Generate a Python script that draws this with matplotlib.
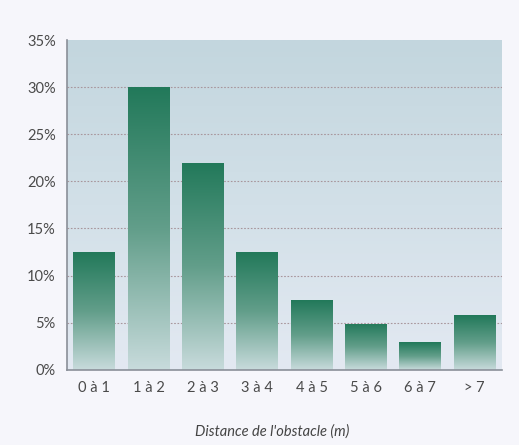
import numpy as np
import matplotlib
matplotlib.use("Agg")
import matplotlib.pyplot as plt
from matplotlib.colors import LinearSegmentedColormap

categories = ["0 à 1", "1 à 2", "2 à 3", "3 à 4", "4 à 5", "5 à 6", "6 à 7", "> 7"]
values = [12.5, 30.0, 22.0, 12.5, 7.4, 4.9, 2.9, 5.8]
yticks = [0, 5, 10, 15, 20, 25, 30, 35]
ytick_labels = ["0%", "5%", "10%", "15%", "20%", "25%", "30%", "35%"]

plt.rcParams['font.family'] = ['Lato', 'DejaVu Sans']

fig = plt.figure(figsize=(5.19, 4.45), dpi=100)
fig.patch.set_facecolor("#f6f6fb")
ax = fig.add_axes([0.129, 0.169, 0.838, 0.741])

# background gradient of plot area
bg_cmap = LinearSegmentedColormap.from_list("bg", ["#e3e9f2", "#d2e0e8", "#c3d6de"])
grad = np.linspace(0, 1, 256).reshape(-1, 1)
ax.imshow(grad, extent=(-0.5, len(categories) - 0.5, 0, 35), origin="lower",
          aspect="auto", cmap=bg_cmap, zorder=0)

for y in yticks[1:-1]:
    ax.axhline(y, color="#a8969c", lw=0.8, ls=(0, (1.5, 1.5)), zorder=1)

x = np.arange(len(categories))
bars = ax.bar(x, values, width=0.77, color="none", edgecolor="none", zorder=2)
bar_cmap = LinearSegmentedColormap.from_list("bar", ["#c8dbdc", "#629e8a", "#22795a"])
for b in bars:
    bx, by = b.get_x(), b.get_y()
    w, h = b.get_width(), b.get_height()
    im = ax.imshow(grad, extent=(bx, bx + w, by, by + h), origin="lower",
                   aspect="auto", cmap=bar_cmap, zorder=2)
    im.set_clip_path(b)

ax.set_xlim(-0.5, len(categories) - 0.5)
ax.set_ylim(0, 35)
ax.set_xticks(x)
ax.set_xticklabels(categories, fontsize=10.5, color="#4a4a4a")
ax.set_yticks(yticks)
ax.set_yticklabels(ytick_labels, fontsize=10.5, color="#4a4a4a")
ax.tick_params(length=0, pad=8)
for s in ["top", "right"]:
    ax.spines[s].set_visible(False)
for s in ["left", "bottom"]:
    ax.spines[s].set_color("#8a8f98")
    ax.spines[s].set_linewidth(1.2)

fig.text(0.525, 0.03, "Distance de l'obstacle (m)", ha="center", va="center",
         fontsize=10.5, style="italic", color="#444444")

fig.savefig("out.png", dpi=100, facecolor=fig.get_facecolor())
